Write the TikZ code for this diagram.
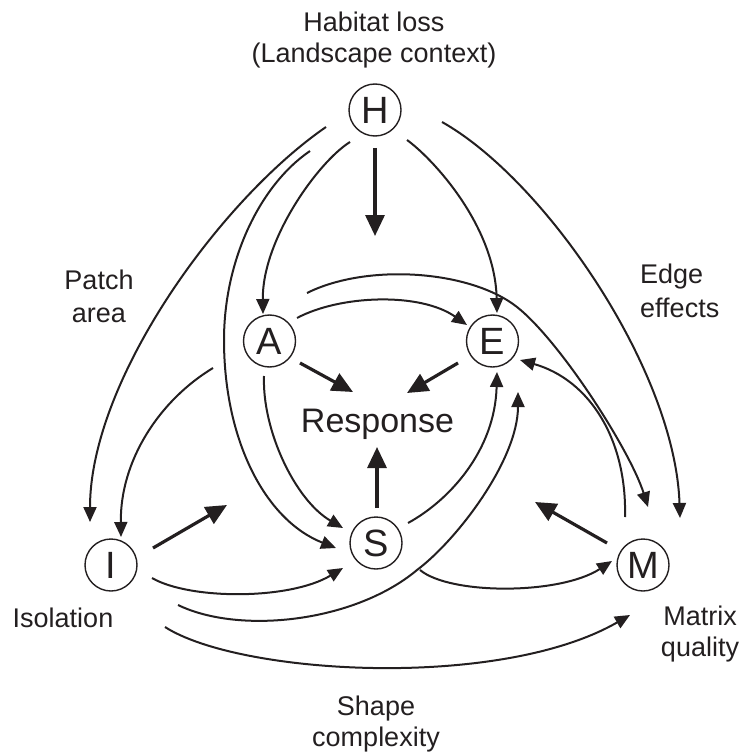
\documentclass[tikz,border=0pt]{standalone}
\usepackage{fontspec}
\setmainfont{Liberation Sans}
\usetikzlibrary{arrows.meta}
\definecolor{ink}{HTML}{231F20}
\begin{document}
\begin{tikzpicture}[x=1pt,y=-1pt,
  var/.style={circle, draw=ink, text=ink, line width=1.4pt, minimum size=52pt, inner sep=0pt, font=\fontsize{38}{40}\selectfont},
  lbl/.style={anchor=base, text=ink, inner sep=0pt, font=\fontsize{27}{32}\selectfont},
  link/.style={draw=ink, line width=2pt, -{Triangle[length=15pt,width=13pt]}},
  bold/.style={draw=ink, line width=3.2pt, -{Triangle[length=21pt,width=19pt]}}
]
\useasboundingbox (0,0) rectangle (742,754);

% variables
\node[var] (H) at (375,110) {H};
\node[var] (A) at (269.5,341) {A};
\node[var] (E) at (492.5,341) {E};
\node[var] (S) at (376,543) {S};
\node[var] (I) at (111,565) {I};
\node[var] (M) at (643,565) {M};
\node[anchor=base, text=ink, inner sep=0pt, font=\fontsize{34}{40}\selectfont] (R) at (377.5,432) {Response};

% labels
\node[lbl] (hab1) at (374,32) {Habitat loss};
\node[lbl] (hab2) at (374,63) {(Landscape context)};
\node[lbl] (pa1) at (99,289) {Patch};
\node[lbl] (pa2) at (99,322) {area};
\node[lbl, anchor=base west] (ed1) at (640,283) {Edge};
\node[lbl, anchor=base west] (ed2) at (640,317) {effects};
\node[lbl] (iso) at (63,627) {Isolation};
\node[lbl] (mq1) at (700,625) {Matrix};
\node[lbl] (mq2) at (700,656) {quality};
\node[lbl] (sc1) at (376,715) {Shape};
\node[lbl] (sc2) at (376,746) {complexity};

% connector ends
\coordinate (Hd0) at (375,148);  \coordinate (Hd1) at (375,236);
\coordinate (HA0) at (350,142);  \coordinate (HA1) at (263,314);
\coordinate (HE0) at (407,140);  \coordinate (HE1) at (497,313);
\coordinate (HM0) at (442,122);  \coordinate (HM1) at (680,518);
\coordinate (HI0) at (326,127);  \coordinate (HI1) at (90,522);
\coordinate (HS0) at (310,151);  \coordinate (HS1) at (336,548);
\coordinate (AI0) at (213,368);  \coordinate (AI1) at (121,537);
\coordinate (AE0) at (297,318);  \coordinate (AE1) at (467,325);
\coordinate (AM0) at (307,293);  \coordinate (AM1) at (648,507);
\coordinate (AS0) at (264,376);  \coordinate (AS1) at (343,528);
\coordinate (AR0) at (300,363);  \coordinate (AR1) at (353,392);
\coordinate (ER0) at (458,363);  \coordinate (ER1) at (407,393);
\coordinate (SR0) at (377,508);  \coordinate (SR1) at (377,447);
\coordinate (Id0) at (153,548);  \coordinate (Id1) at (227,505);
\coordinate (Md0) at (607,543);  \coordinate (Md1) at (535,502);
\coordinate (SE0) at (408,523);  \coordinate (SE1) at (497,372);
\coordinate (IE0) at (178,605);  \coordinate (IE1) at (518,392);
\coordinate (IS0) at (152,578);  \coordinate (IS1) at (343,568);
\coordinate (SM0) at (420,570);  \coordinate (SM1) at (612,561);
\coordinate (IM0) at (165,627);  \coordinate (IM1) at (630,615);
\coordinate (ME0) at (625,517);  \coordinate (ME1) at (520,360);

% thick arrows
\draw[bold] (Hd0) -- (Hd1);
\draw[bold] (AR0) -- (AR1);
\draw[bold] (ER0) -- (ER1);
\draw[bold] (SR0) -- (SR1);
\draw[bold] (Id0) -- (Id1);
\draw[bold] (Md0) -- (Md1);

% curved links
\draw[link] (HA0) .. controls (318,162) and (262,240) .. (HA1);
\draw[link] (HE0) .. controls (432,158) and (495,225) .. (HE1);
\draw[link] (HM0) .. controls (545,180) and (675,370) .. (HM1);
\draw[link] (HI0) .. controls (220,200) and (90,380) .. (HI1);
\draw[link] (HS0) .. controls (260,185) and (224,260) .. (224,340) .. controls (224,440) and (265,520) .. (HS1);
\draw[link] (AI0) .. controls (160,400) and (120,460) .. (AI1);
\draw[link] (AE0) .. controls (340,295) and (420,292) .. (AE1);
\draw[link] (AM0) .. controls (367,263) and (470,270) .. (517,307) .. controls (560,341) and (630,450) .. (AM1);
\draw[link] (AS0) .. controls (262,430) and (295,500) .. (AS1);
\draw[link] (SE0) .. controls (450,500) and (495,450) .. (SE1);
\draw[link] (IE0) .. controls (240,635) and (355,622) .. (417,570) .. controls (457,540) and (518,460) .. (IE1);
\draw[link] (IS0) .. controls (190,600) and (290,600) .. (IS1);
\draw[link] (SM0) .. controls (450,595) and (560,595) .. (SM1);
\draw[link] (IM0) .. controls (240,675) and (500,690) .. (IM1);
\draw[link] (ME0) .. controls (627,440) and (590,380) .. (ME1);
\end{tikzpicture}
\end{document}
